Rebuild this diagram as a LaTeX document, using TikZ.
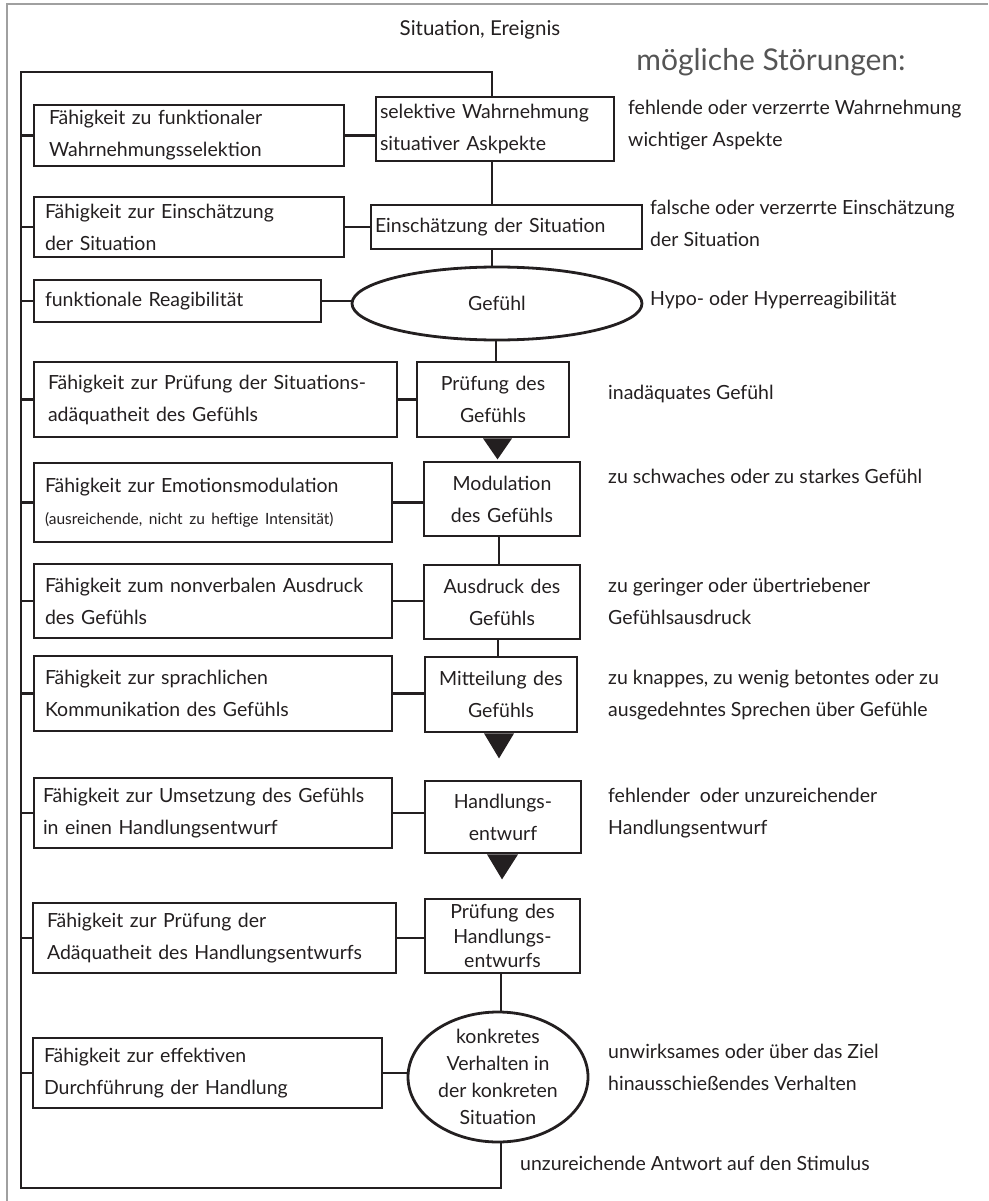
\documentclass[tikz,border=0pt]{standalone}
\usepackage{fontspec}
\setmainfont{Lato}
\usetikzlibrary{shapes.geometric,calc}
\definecolor{ink}{RGB}{35,31,32}
\definecolor{frame}{RGB}{160,160,160}
\definecolor{head}{RGB}{85,85,85}
\begin{document}
\begin{tikzpicture}[x=1pt,y=-1pt,
  txt/.style={font=\fontsize{19.5}{32}\selectfont, text=ink},
  conn/.style={draw=ink, line width=2.8pt},
  bx/.style={draw=ink, line width=2.8pt, rectangle, inner ysep=0pt, inner xsep=#1, align=left, txt},
  bx/.default=11,
  cbx/.style={draw=ink, line width=2.8pt, rectangle, inner ysep=0pt, inner xsep=2pt, align=center, txt},
  ell/.style={draw=ink, line width=2.8pt, ellipse, inner sep=0pt, txt},
  desc/.style={anchor=west, align=left, inner sep=0pt, txt},
  tri/.style={fill=ink}
]
\useasboundingbox (0,0) rectangle (988,1201);
% page frame
\draw[frame, line width=1.6pt] (7,1201) -- (7,4) -- (988,4);

% headings
\node[txt, font=\fontsize{20.5}{32}\selectfont] (title) at (480,30) {Situation, Ereignis};
\node[font=\fontsize{30}{36}\selectfont, text=head] (stoer) at (771,62) {mögliche Störungen:};

% left boxes
\node[bx=15, minimum width=310, minimum height=61, text width=280pt] (L1) at (189,135.5) {Fähigkeit zu funktionaler\\Wahrnehmungsselektion};
\node[bx, minimum width=310, minimum height=60, text width=288pt] (L2) at (189,227) {Fähigkeit zur Einschätzung\\der Situation};
\node[bx, minimum width=287, minimum height=42, text width=265pt] (L3) at (177.5,301) {funktionale Reagibilität};
\node[bx=14, minimum width=363, minimum height=75, text width=335pt] (L4) at (215.5,399.5) {Fähigkeit zur Prüfung der Situations-\\adäquatheit des Gefühls};
\node[bx, minimum width=358, minimum height=79, text width=336pt] (L5) at (213,502.5) {Fähigkeit zur Emotionsmodulation\\{\fontsize{15.5}{32}\selectfont(ausreichende, nicht zu heftige Intensität)}};
\node[bx, minimum width=358, minimum height=74, text width=336pt] (L6) at (213,601) {Fähigkeit zum nonverbalen Ausdruck\\des Gefühls};
\node[bx, minimum width=358, minimum height=75, text width=336pt] (L7) at (213,693.5) {Fähigkeit zur sprachlichen\\Kommunikation des Gefühls};
\node[bx=9, minimum width=358, minimum height=70, text width=340pt] (L8) at (213,813) {Fähigkeit zur Umsetzung des Gefühls\\in einen Handlungsentwurf};
\node[bx=14, minimum width=363, minimum height=70, text width=335pt] (L9) at (214.5,938) {Fähigkeit zur Prüfung der\\Adäquatheit des Handlungsentwurfs};
\node[bx, minimum width=349, minimum height=70, text width=327pt] (L10) at (207.5,1073) {Fähigkeit zur effektiven\\Durchführung der Handlung};

% right (process) column
\node[bx=4, minimum width=238, minimum height=64, text width=230pt] (R1) at (495,129) {selektive Wahrnehmung\\situativer Askpekte};
\node[bx=4, minimum width=271, minimum height=44, text width=263pt] (R2) at (506.5,227) {Einschätzung der Situation};
\node[ell, minimum width=290, minimum height=73] (E1) at (497,303.5) {Gefühl};
\node[cbx, minimum width=152, minimum height=75, text width=148pt] (R3) at (493,399.5) {Prüfung des\\Gefühls};
\node[cbx, minimum width=156, minimum height=74, text width=152pt] (R4) at (502,499) {Modulation\\des Gefühls};
\node[cbx, minimum width=156, minimum height=74, text width=152pt] (R5) at (502,602) {Ausdruck des\\Gefühls};
\node[cbx, minimum width=152, minimum height=75, text width=148pt] (R6) at (501,694.5) {Mitteilung des\\Gefühls};
\node[cbx, minimum width=156, minimum height=72, text width=152pt] (R7) at (503,817) {Handlungs-\\entwurf};
\node[cbx, minimum width=155, minimum height=74, text width=151pt, font=\fontsize{19.5}{24.5}\selectfont] (R8) at (502.5,936) {Prüfung des\\Handlungs-\\entwurfs};
\node[ell, minimum width=180, minimum height=130] (E2) at (498,1077) {};
\node[txt, align=center, font=\fontsize{19.5}{27}\selectfont, inner sep=0pt] (E2t) at (E2.center) {konkretes\\Verhalten in\\der konkreten\\Situation};

% arrow triangles
\fill[tri] ($(R3.south)+(-10,0)$) -- ($(R3.south)+(19,0)$) -- ($(R3.south)+(4.5,21)$) -- cycle;
\fill[tri] ($(R6.south)+(-17,0)$) -- ($(R6.south)+(13,0)$) -- ($(R6.south)+(-2,25)$) -- cycle;
\fill[tri] ($(R7.south)+(-16,0)$) -- ($(R7.south)+(15,0)$) -- ($(R7.south)+(-1,25)$) -- cycle;

% loop coordinates
\coordinate (tr) at (492,72);
\coordinate (tl) at (21,72);
\coordinate (bl) at (21,1188);
\coordinate (br) at (501,1188);
\coordinate (v1) at (496,0);
\coordinate (v2) at (499,0);
\coordinate (v3) at (498,0);

% outer feedback loop
\draw[conn] (R1.north -| tr) -- (tr) -- (tl) -- (bl) -- (br) -- (br |- E2.south);

% main chain
\draw[conn] (R1.south -| tr) -- (R2.north -| tr);
\draw[conn] (R2.south -| tr) -- (E1.north -| tr);
\draw[conn] (E1.south -| v1) -- (R3.north -| v1);
\draw[conn] (R4.south -| v2) -- (R5.north -| v2);
\draw[conn] (R5.south -| v3) -- (R6.north -| v3);
\draw[conn] (R8.south -| br) -- (E2.north -| br);

% left stubs and horizontal links
\foreach \l/\r in {L1/R1,L2/R2,L3/E1,L4/R3,L5/R4,L6/R5,L7/R6,L8/R7,L9/R8,L10/E2}{
  \draw[conn] (\l.west -| tl) -- (\l.west);
  \draw[conn] (\l.east) -- (\l.east -| \r.west);
}

% possible disorders
\node[desc] (D1) at (628,125) {fehlende oder verzerrte Wahrnehmung\\wichtiger Aspekte};
\node[desc] (D2) at (650,223) {falsche oder verzerrte Einschätzung\\der Situation};
\node[desc] (D3) at (650,300) {Hypo- oder Hyperreagibilität};
\node[desc] (D4) at (608,394) {inadäquates Gefühl};
\node[desc] (D5) at (608,476) {zu schwaches oder zu starkes Gefühl};
\node[desc] (D6) at (608,601) {zu geringer oder übertriebener\\Gefühlsausdruck};
\node[desc] (D7) at (608,695) {zu knappes, zu wenig betontes oder zu\\ausgedehntes Sprechen über Gefühle};
\node[desc] (D8) at (608,813) {fehlender\ \ oder unzureichender\\Handlungsentwurf};
\node[desc] (D9) at (608,1067) {unwirksames oder über das Ziel\\hinausschießendes Verhalten};
\node[desc] (D10) at (520,1163) {unzureichende Antwort auf den Stimulus};
\end{tikzpicture}
\end{document}
